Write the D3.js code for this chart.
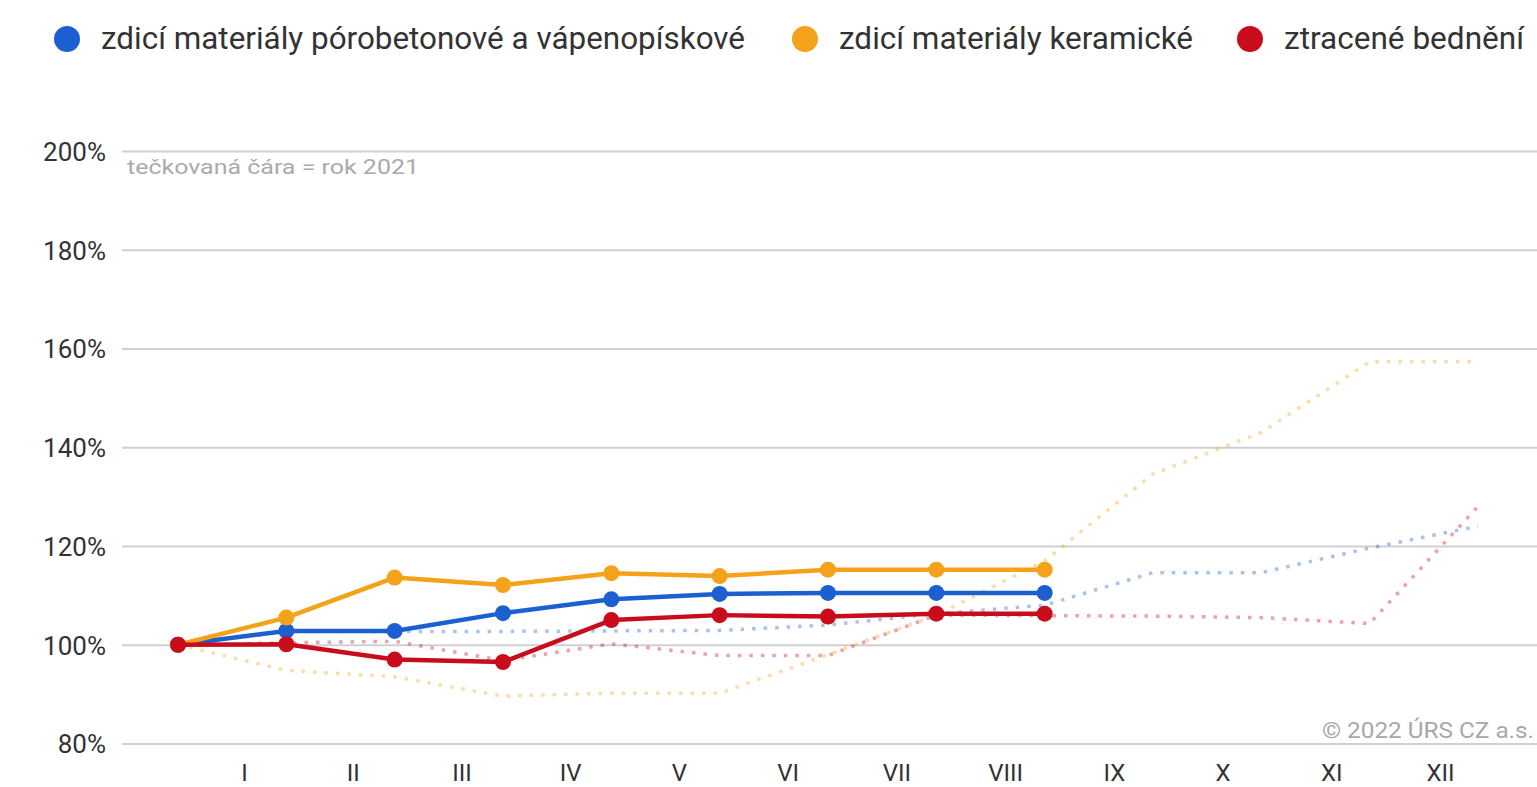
<!DOCTYPE html>
<html>
<head>
<meta charset="utf-8">
<script src="https://cdn.jsdelivr.net/npm/d3@7"></script>
<style>
  body { margin: 0; background: #fff; }
  text { font-family: Roboto, "Noto Sans", sans-serif; }
</style>
</head>
<body>
<div id="chart"></div>
<script>
// Data (index 0 = start, 1..12 = months)
var months = ["I", "II", "III", "IV", "V", "VI", "VII", "VIII", "IX", "X", "XI", "XII"];
var yTicks = [80, 100, 120, 140, 160, 180, 200];

var seriesNames = ["zdicí materiály pórobetonové a vápenopískové", "zdicí materiály keramické", "ztracené bednění"];
var seriesColors = ["#1b5fd1", "#f4a21a", "#c80c1c"];

// year 2022 (solid)
var porobeton2022 = [100, 102.8, 102.8, 106.4, 109.2, 110.3, 110.5, 110.5, 110.5];
var keramicke2022 = [100, 105.5, 113.6, 112.1, 114.5, 113.9, 115.2, 115.2, 115.2];
var bedneni2022 = [100, 100.1, 97.0, 96.5, 105.0, 106.0, 105.7, 106.3, 106.3];

// year 2021 (dotted)
var porobeton2021 = [100, 102.7, 102.7, 102.7, 102.8, 102.9, 104.0, 106.3, 108.0, 114.6, 114.6, 119.6, 124.0];
var keramicke2021 = [100, 94.8, 93.5, 89.6, 90.2, 90.2, 98.0, 106.0, 117.0, 134.6, 143.0, 157.3, 157.3];
var bedneni2021 = [100, 100.4, 100.7, 96.8, 100.2, 97.8, 97.8, 106.0, 105.9, 105.8, 105.5, 104.3, 128.0];

var svgWidth = 1537;
var svgHeight = 787;

var svg = d3.select("#chart")
  .append("svg")
  .attr("width", svgWidth)
  .attr("height", svgHeight);

// scales
var xScale = d3.scalePoint()
  .domain(d3.range(13))
  .range([178, 1478]);

var monthScale = d3.scalePoint()
  .domain(months)
  .range([244, 1440]);

var yScale = d3.scaleLinear()
  .domain([80, 200])
  .range([743.5, 151]);

// y axis with gridlines
var yAxis = d3.axisLeft(yScale)
  .tickValues(yTicks)
  .tickSize(-(1537 - 122))
  .tickPadding(16)
  .tickFormat(d => d + "%");

var yAxisG = svg.append("g")
  .attr("transform", "translate(122,0)")
  .call(yAxis);
yAxisG.select(".domain").remove();
yAxisG.selectAll(".tick line")
  .attr("stroke", "#d0d0d0")
  .attr("stroke-width", 2);
yAxisG.selectAll(".tick text")
  .attr("fill", "#333")
  .attr("font-size", "26px")
  .attr("dy", "0.36em");

// x axis (month labels)
var xAxis = d3.axisBottom(monthScale)
  .tickSize(0)
  .tickPadding(20);

var xAxisG = svg.append("g")
  .attr("transform", `translate(0, ${yScale(80)})`)
  .call(xAxis);
xAxisG.select(".domain").remove();
xAxisG.selectAll(".tick text")
  .attr("fill", "#333")
  .attr("font-size", "24px");

// helper to fit text to the width seen in the picture
function fit(sel, w) {
  sel.attr("textLength", w).attr("lengthAdjust", "spacingAndGlyphs");
}

// note + copyright
svg.append("text")
  .attr("x", 127)
  .attr("y", 174)
  .attr("fill", "#aaa")
  .attr("font-size", "20px")
  .text("tečkovaná čára = rok 2021")
  .call(fit, 292);

svg.append("text")
  .attr("x", 1322)
  .attr("y", 738)
  .attr("fill", "#a8a8a8")
  .attr("font-size", "22px")
  .text("© 2022 ÚRS CZ a.s.")
  .call(fit, 212);

var line = d3.line()
  .x((d, i) => xScale(i))
  .y(d => yScale(d));

var dotted = [porobeton2021, keramicke2021, bedneni2021];
var solid = [porobeton2022, keramicke2022, bedneni2022];

// 2021 dotted lines
svg.append("g")
  .selectAll("path")
  .data(dotted)
  .enter()
  .append("path")
  .attr("d", d => line(d))
  .attr("fill", "none")
  .attr("stroke", (d, i) => seriesColors[i])
  .attr("stroke-opacity", 0.38)
  .attr("stroke-width", 3.5)
  .attr("stroke-dasharray", "3.5,8");

// 2022 solid lines with markers
var seriesG = svg.append("g")
  .selectAll("g")
  .data(solid)
  .enter()
  .append("g");

seriesG.append("path")
  .attr("d", d => line(d))
  .attr("fill", "none")
  .attr("stroke", (d, i) => seriesColors[i])
  .attr("stroke-width", 4.5)
  .attr("stroke-linejoin", "round");

seriesG.each(function(d, i) {
  d3.select(this).selectAll("circle")
    .data(d)
    .enter()
    .append("circle")
    .attr("cx", (v, j) => xScale(j))
    .attr("cy", v => yScale(v))
    .attr("r", 8)
    .attr("fill", seriesColors[i]);
});

// legend
var legendX = [67, 805, 1250];
var legendW = [644, 354, 240];
var legendG = svg.append("g")
  .selectAll("g")
  .data(seriesNames)
  .enter()
  .append("g")
  .attr("transform", (d, i) => `translate(${legendX[i]}, 39)`);

legendG.append("circle")
  .attr("r", 13)
  .attr("fill", (d, i) => seriesColors[i]);

legendG.append("text")
  .attr("x", 34)
  .attr("y", 10)
  .attr("fill", "#333")
  .attr("font-size", "32px")
  .text(d => d)
  .each(function(d, i) { d3.select(this).call(fit, legendW[i]); });
</script>
</body>
</html>
